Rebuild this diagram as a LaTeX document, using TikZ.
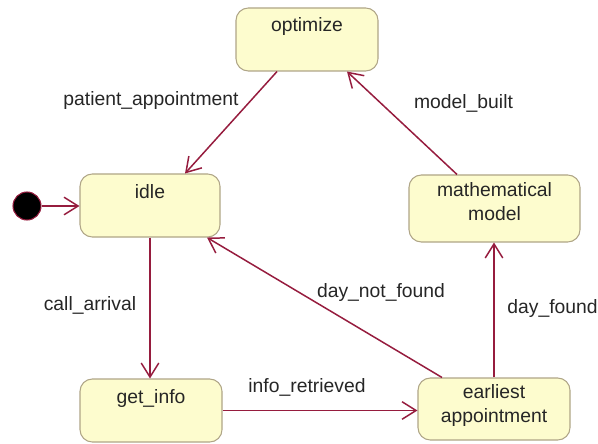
\documentclass[tikz,border=0pt]{standalone}
\usepackage{fontspec}
\setmainfont{Liberation Sans}
\usetikzlibrary{arrows.meta}
\definecolor{statefill}{RGB}{253,252,206}
\definecolor{stateline}{RGB}{175,165,135}
\definecolor{transred}{RGB}{150,28,62}
\tikzset{
 state/.style={draw=stateline,fill=statefill,rounded corners=7pt,line width=0.6pt,inner xsep=0pt,inner ysep=0.1cm,font=\fontsize{11}{14}\selectfont,text=black!85},
 oneline/.style={text height=0.38cm,text depth=0.68cm},
 trans/.style={draw=transred,line width=0.85pt,-{Straight Barb[length=8pt,width=10pt]}},
 lbl/.style={font=\fontsize{11}{14}\selectfont,text=black!85}
}
\begin{document}
\begin{tikzpicture}
\useasboundingbox(0,0)rectangle(11.96,8.86);
\node[state,oneline,minimum width=2.84cm](optimize)at(6.14,8.07){optimize};
\node[state,oneline,minimum width=2.8cm](idle)at(3.0,4.75){idle};
\node[state,oneline,minimum width=2.84cm](getinfo)at(3.02,0.65){get\_info};
\node[state,align=center,text depth=0.28cm,minimum width=3.42cm,minimum height=1.34cm](math)at(9.89,4.69){mathematical\\model};
\node[state,align=center,text depth=0.22cm,minimum width=3.04cm,minimum height=1.24cm](earliest)at(9.88,0.68){earliest\\appointment};
\node[circle,fill=black,draw=transred,line width=0.6pt,minimum size=0.56cm,inner sep=0pt](init)at(0.54,4.74){};
\draw[trans](init)--(init-|idle.west);
\draw[trans]([xshift=-0.6cm]optimize.south)--([xshift=0.7cm]idle.north);
\draw[trans]([xshift=-0.75cm]math.north)--([xshift=0.8cm]optimize.south);
\draw[trans](idle.south)--(idle.south|-getinfo.north);
\draw[trans](getinfo.east)--(getinfo.east-|earliest.west);
\draw[trans]([xshift=-1.04cm]earliest.north)--([xshift=1.14cm]idle.south);
\draw[trans](earliest.north)--(earliest.north|-math.south);
\node[lbl](patientlbl)at(3.02,6.84){patient\_appointment};
\node[lbl](builtlbl)at(9.27,6.8){model\_built};
\node[lbl](arrivallbl)at(1.8,2.76){call\_arrival};
\node[lbl](notfoundlbl)at(7.62,3.0){day\_not\_found};
\node[lbl](foundlbl)at(11.05,2.7){day\_found};
\node[lbl](retrievedlbl)at(6.14,1.12){info\_retrieved};
\end{tikzpicture}
\end{document}
